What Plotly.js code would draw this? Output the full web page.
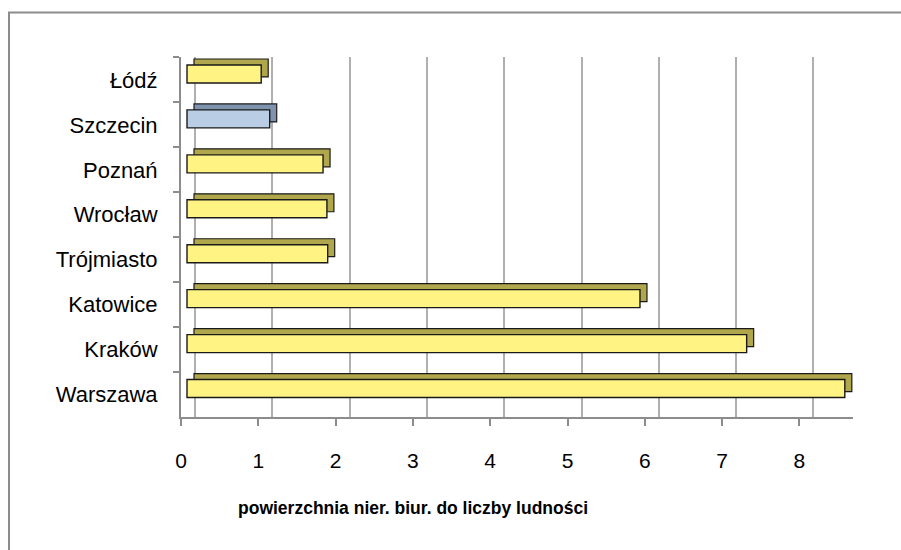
<!DOCTYPE html>
<html>
<head>
<meta charset="utf-8">
<script src="https://cdn.plot.ly/plotly-3.0.1.min.js"></script>
<style>
  html, body { margin: 0; padding: 0; background: #ffffff; }
  #chart { width: 901px; height: 550px; }
</style>
</head>
<body>
<div id="chart"></div>
<script>
// ---- data (bottom to top, as Plotly draws categories) ----
const cities = ["Warszawa", "Kraków", "Katowice", "Trójmiasto", "Wrocław", "Poznań", "Szczecin", "Łódź"];
const ratio  = [8.51, 7.24, 5.86, 1.82, 1.81, 1.76, 1.07, 0.96];
const xTicks = [0, 1, 2, 3, 4, 5, 6, 7, 8];
const highlighted = "Szczecin";
const xTitle = "powierzchnia nier. biur. do liczby ludności";

// ---- geometry / style ----
const L = 181, R = 48, T = 44, B = 132.5;           // margins (px)
const plotW = 901 - L - R;                            // 672
const pxPerUnit = 77.3;
const xMax = plotW / pxPerUnit;
const plotH = 550 - T - B;                            // 373.5
const frontH = 360;                                   // front plane height
const backShiftX = 14 / pxPerUnit;                    // back wall offset
const frontDepth = 6 / pxPerUnit;                     // bar front plane offset
const barDepthX = 7 / pxPerUnit;
const barDepthY = 6 / 45;
const barW = 0.4;
const barOff = -barW / 2 + 6 / 45;

const frontCol = cities.map(c => c === highlighted ? "#b9cde5" : "#fff384");
const sideCol  = cities.map(c => c === highlighted ? "#7f93ae" : "#b0a74c");
const FONT = "Liberation Sans, Arial, sans-serif";

const depth = {
  type: "bar", orientation: "h",
  y: cities, x: ratio,
  base: frontDepth + barDepthX,
  width: barW, offset: barOff + barDepthY,
  marker: { color: sideCol, line: { color: "#1a1a1a", width: 1.2 } },
  hoverinfo: "skip", showlegend: false, cliponaxis: false
};
const front = {
  type: "bar", orientation: "h",
  y: cities, x: ratio,
  base: frontDepth,
  width: barW, offset: barOff,
  marker: { color: frontCol, line: { color: "#1a1a1a", width: 1.4 } },
  showlegend: false, cliponaxis: false,
  hovertemplate: "%{y}: %{x}<extra></extra>"
};
// invisible helper so the back-wall axis (grid) is drawn
const backWall = {
  type: "scatter", mode: "markers", xaxis: "x2", yaxis: "y2",
  x: [xTicks[0]], y: [0], marker: { opacity: 0, size: 1 },
  hoverinfo: "skip", showlegend: false
};

// paper-coordinate helpers
const px2paperX = p => (p - L) / plotW;
const px2paperY = p => (550 - B - p) / plotH;

const layout = {
  width: 901, height: 550,
  margin: { l: L, r: R, t: T, b: B },
  paper_bgcolor: "#ffffff", plot_bgcolor: "rgba(0,0,0,0)",
  font: { family: FONT, color: "#000", size: 22 },
  bargap: 0,
  xaxis: {
    range: [0, xMax], tickvals: xTicks, ticktext: xTicks.map(String),
    showgrid: false, zeroline: false,
    showline: true, linecolor: "#8c8c8c", linewidth: 2,
    ticks: "outside", ticklen: 7, tickwidth: 2, tickcolor: "#8c8c8c",
    ticklabelstandoff: 17,
    tickfont: { size: 21, family: FONT },
    anchor: "y"
  },
  yaxis: {
    type: "category", range: [-0.5, 7.5],
    domain: [0, frontH / plotH],
    tickson: "boundaries",
    showgrid: false, zeroline: false,
    showline: true, linecolor: "#8c8c8c", linewidth: 2,
    ticks: "outside", ticklen: 6, tickwidth: 2, tickcolor: "#8c8c8c",
    ticklabelstandoff: 17,
    tickfont: { size: 22, family: FONT },
    anchor: "x"
  },
  xaxis2: {
    overlaying: "x", anchor: "y2",
    range: [-backShiftX, xMax - backShiftX], tickvals: xTicks,
    showticklabels: false, ticks: "", showline: false, zeroline: false,
    showgrid: true, gridcolor: "#b0b0b0", gridwidth: 2
  },
  yaxis2: {
    overlaying: "y", anchor: "x2",
    domain: [(plotH - frontH) / plotH, 1],
    range: [0, 1], showticklabels: false, showgrid: false,
    zeroline: false, showline: false, ticks: ""
  },
  annotations: [
    { text: "<b>" + xTitle + "</b>", xref: "paper", yref: "paper",
      x: px2paperX(413), y: px2paperY(509), xanchor: "center", yanchor: "middle",
      showarrow: false, font: { family: FONT, size: 17.5, color: "#000" } }
  ],
  shapes: [
    { type: "rect", xref: "paper", yref: "paper", layer: "below",
      x0: px2paperX(9), x1: px2paperX(910), y0: px2paperY(560), y1: px2paperY(12.5),
      line: { color: "#8c8c8c", width: 2 }, fillcolor: "rgba(0,0,0,0)" }
  ]
};

Plotly.newPlot("chart", [backWall, depth, front], layout, { displayModeBar: false, staticPlot: true });
</script>
</body>
</html>
